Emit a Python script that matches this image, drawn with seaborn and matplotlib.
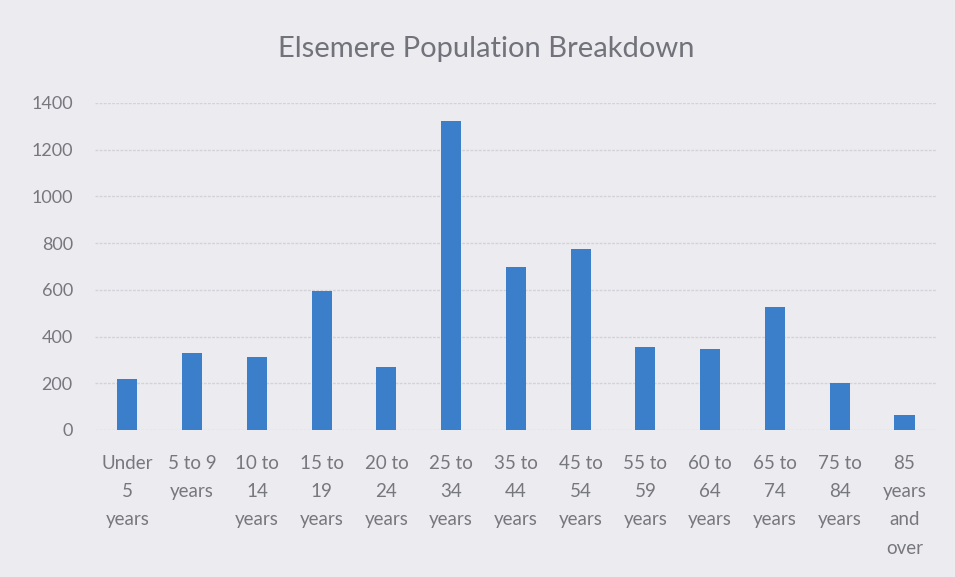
import matplotlib
matplotlib.use("Agg")
import matplotlib.pyplot as plt
import seaborn as sns
import pandas as pd

# age groups and population counts
age_groups = ["Under\n5\nyears", "5 to 9\nyears", "10 to\n14\nyears", "15 to\n19\nyears",
              "20 to\n24\nyears", "25 to\n34\nyears", "35 to\n44\nyears", "45 to\n54\nyears",
              "55 to\n59\nyears", "60 to\n64\nyears", "65 to\n74\nyears", "75 to\n84\nyears",
              "85\nyears\nand\nover"]
population = [218, 330, 312, 596, 270, 1322, 698, 774, 355, 347, 526, 202, 66]
y_ticks = [0, 200, 400, 600, 800, 1000, 1200, 1400]

df = pd.DataFrame({"Age": age_groups, "Population": population})

bg = "#ECEBF0"
sns.set_style("white")
plt.rcParams["font.family"] = ["Lato", "DejaVu Sans"]

fig = plt.figure(figsize=(9.55, 5.77), dpi=100)
fig.patch.set_facecolor(bg)
ax = fig.add_axes([0.0995, 0.2548, 0.8815, 0.5667])
ax.set_facecolor(bg)

sns.barplot(data=df, x="Age", y="Population", color="#3B7FCA", saturation=1,
            width=0.31, linewidth=0, edgecolor="none", ax=ax, zorder=3)

ax.set_xlim(-0.5, len(age_groups) - 0.5)
ax.set_ylim(0, 1400)
ax.set_yticks(y_ticks)
ax.set_yticklabels([str(t) for t in y_ticks])
ax.yaxis.grid(True, color="#D3D2D9", linestyle=(0, (2, 1)), linewidth=1, zorder=0)
ax.set_axisbelow(True)
for s in ax.spines.values():
    s.set_visible(False)

ax.tick_params(axis="both", length=0, colors="#77777E")
ax.tick_params(axis="x", pad=18, labelsize=13.5)
ax.tick_params(axis="y", pad=16, labelsize=13)
for lab in ax.get_xticklabels():
    lab.set_linespacing(1.8)
    lab.set_multialignment("center")
ax.set_xlabel("")
ax.set_ylabel("")

fig.text(0.509, 0.915, "Elsemere Population Breakdown", ha="center", va="center",
         fontsize=21, color="#72727B")

fig.savefig("out.png", dpi=100, facecolor=bg)
